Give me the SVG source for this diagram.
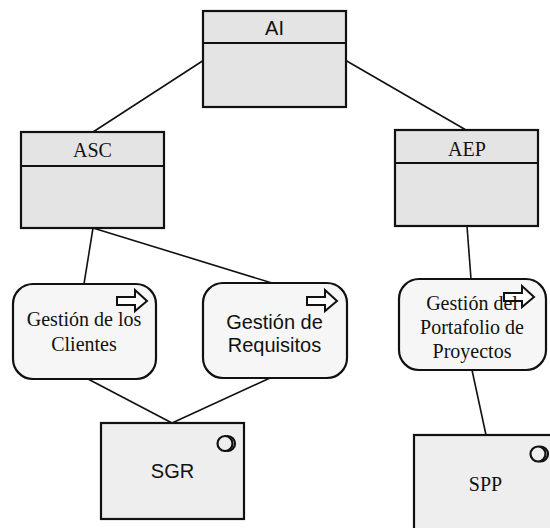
<svg xmlns="http://www.w3.org/2000/svg" width="550" height="528" viewBox="0 0 550 528">
<style>
.cls{fill:#e4e4e4;stroke:#111;stroke-width:2.2}
.div{stroke:#111;stroke-width:2.2}
.proc{fill:#f6f6f6;stroke:#111;stroke-width:2.2}
.sys{fill:#eeeeee;stroke:#111;stroke-width:2.2}
.conn{stroke:#111;stroke-width:1.6;fill:none}
.icon{fill:#fff;stroke:#111;stroke-width:2}
.ring{fill:none;stroke:#111;stroke-width:2.2}
.sans{font-family:"Liberation Sans",Arial,sans-serif;font-size:20px;fill:#111;text-anchor:middle}
.serif{font-family:"Liberation Serif","Times New Roman",serif;font-size:20px;fill:#111;text-anchor:middle}
</style>
<defs>
<path id="arr" d="M0,7 H18 V0 L30,11 L18,21 V15 H0 Z"/>
</defs>
<rect width="550" height="528" fill="#fff"/>
<g id="connectors">
<line class="conn" x1="204" y1="60" x2="93" y2="132"/>
<line class="conn" x1="345" y1="60" x2="466" y2="130"/>
<line class="conn" x1="93" y1="228" x2="84" y2="284"/>
<line class="conn" x1="93" y1="228" x2="272" y2="283"/>
<line class="conn" x1="467" y1="226" x2="471" y2="279"/>
<line class="conn" x1="88" y1="379" x2="172" y2="423"/>
<line class="conn" x1="270" y1="378" x2="172" y2="423"/>
<line class="conn" x1="472" y1="370" x2="486" y2="435"/>
</g>
<g id="AI">
<rect class="cls" x="203" y="11" width="143" height="96"/>
<line class="div" x1="203" y1="43" x2="346" y2="43"/>
<text class="sans" x="274.5" y="34.5">AI</text>
</g>
<g id="ASC">
<rect class="cls" x="21" y="132" width="143" height="96"/>
<line class="div" x1="21" y1="166" x2="164" y2="166"/>
<text class="serif" x="92.5" y="157">ASC</text>
</g>
<g id="AEP">
<rect class="cls" x="395" y="130" width="143" height="96"/>
<line class="div" x1="395" y1="163" x2="538" y2="163"/>
<text class="serif" x="467" y="156">AEP</text>
</g>
<g id="GestionClientes">
<rect class="proc" x="13" y="284" width="143" height="95" rx="20" ry="20"/>
<use href="#arr" class="icon" x="117" y="290"/>
<text class="serif" x="84" y="326">Gestión de los</text>
<text class="serif" x="84" y="351">Clientes</text>
</g>
<g id="GestionRequisitos">
<rect class="proc" x="203" y="283" width="144" height="95" rx="20" ry="20"/>
<use href="#arr" class="icon" x="307" y="290"/>
<text class="sans" x="274.5" y="329">Gestión de</text>
<text class="sans" x="274.5" y="352">Requisitos</text>
</g>
<g id="GestionPortafolio">
<rect class="proc" x="399" y="279" width="147" height="91" rx="20" ry="20"/>
<use href="#arr" class="icon" x="504" y="286"/>
<text class="serif" x="472" y="310">Gestión del</text>
<text class="serif" x="472" y="334">Portafolio de</text>
<text class="serif" x="472" y="358">Proyectos</text>
</g>
<g id="SGR">
<rect class="sys" x="101" y="423" width="143" height="96"/>
<circle class="ring" cx="227.5" cy="443.5" r="7.5"/>
<circle class="ring" cx="225" cy="443.5" r="7.5" style="fill:#eeeeee"/>
<text class="sans" x="172.5" y="478">SGR</text>
</g>
<g id="SPP">
<rect class="sys" x="414" y="435" width="143" height="96"/>
<circle class="ring" cx="540.5" cy="454" r="7.5"/>
<circle class="ring" cx="538" cy="454" r="7.5" style="fill:#eeeeee"/>
<text class="serif" x="485.5" y="491">SPP</text>
</g>
</svg>
